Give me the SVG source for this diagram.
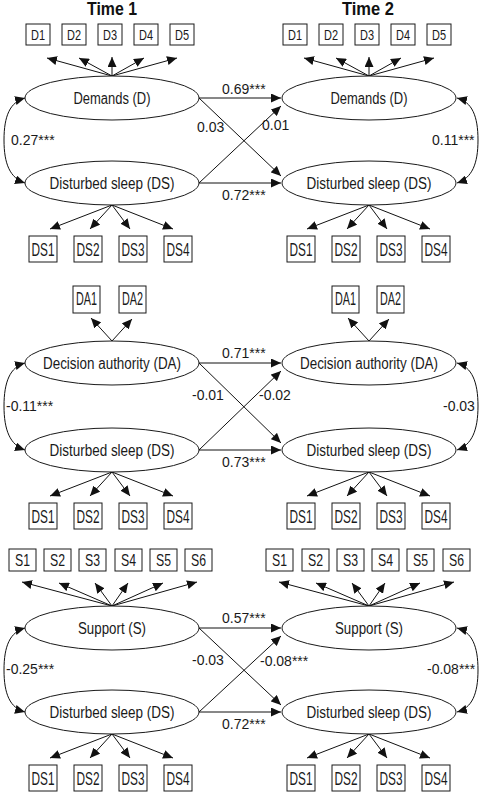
<svg xmlns="http://www.w3.org/2000/svg" width="481" height="794" viewBox="0 0 481 794">
<style>
.bg{fill:#fff}
.box{fill:#fff;stroke:#1a1a1a;stroke-width:1}
.ell{fill:#fff;stroke:#1a1a1a;stroke-width:1}
.ln{fill:none;stroke:#111;stroke-width:1;marker-end:url(#ah)}
.dbl{fill:none;stroke:#111;stroke-width:1;marker-start:url(#ah);marker-end:url(#ah)}
.t{font-family:"Liberation Sans",Arial,sans-serif;fill:#1a1a1a}
.title{font-family:"Liberation Sans",Arial,sans-serif;font-weight:bold;font-size:18px;fill:#111;text-anchor:middle}
.num{font-family:"Liberation Sans",Arial,sans-serif;font-size:14px;fill:#1a1a1a}
.lab{font-size:16px;text-anchor:middle}
.bl{text-anchor:middle}
</style>
<defs>
<marker id="ah" markerWidth="10" markerHeight="9" refX="10" refY="4.5" orient="auto-start-reverse" markerUnits="userSpaceOnUse">
<path d="M0,0 L10,4.5 L0,9 z" fill="#111"/>
</marker>
</defs>
<rect class="bg" x="0" y="0" width="481" height="794"/>
<text class="title" x="112" y="15" textLength="50" lengthAdjust="spacingAndGlyphs">Time 1</text>
<text class="title" x="368" y="15" textLength="52" lengthAdjust="spacingAndGlyphs">Time 2</text>

<g id="connectors">
<line class="ln" x1="112" y1="76" x2="47" y2="58"/>
<line class="ln" x1="112" y1="76" x2="79" y2="58"/>
<line class="ln" x1="112" y1="76" x2="112" y2="57"/>
<line class="ln" x1="112" y1="76" x2="144" y2="58"/>
<line class="ln" x1="112" y1="76" x2="177" y2="58"/>
<line class="ln" x1="369" y1="76" x2="304" y2="58"/>
<line class="ln" x1="369" y1="76" x2="336" y2="58"/>
<line class="ln" x1="369" y1="76" x2="369" y2="57"/>
<line class="ln" x1="369" y1="76" x2="401" y2="58"/>
<line class="ln" x1="369" y1="76" x2="434" y2="58"/>
<line class="ln" x1="112" y1="205" x2="50" y2="229"/>
<line class="ln" x1="112" y1="205" x2="90" y2="229"/>
<line class="ln" x1="112" y1="205" x2="130" y2="229"/>
<line class="ln" x1="112" y1="205" x2="173" y2="229"/>
<line class="ln" x1="369" y1="205" x2="307" y2="229"/>
<line class="ln" x1="369" y1="205" x2="347" y2="229"/>
<line class="ln" x1="369" y1="205" x2="387" y2="229"/>
<line class="ln" x1="369" y1="205" x2="430" y2="229"/>
<line class="ln" x1="199" y1="98" x2="281" y2="98"/>
<line class="ln" x1="199" y1="183" x2="281" y2="183"/>
<line class="ln" x1="199" y1="98" x2="281" y2="176"/>
<line class="ln" x1="199" y1="183" x2="281" y2="106"/>
<path class="dbl" d="M25,98 C10,102 4,116 4,140 C4,164 10,178 25,183"/>
<path class="dbl" d="M457,98 C472,102 478,116 478,140 C478,164 472,178 457,183"/>

<line class="ln" x1="112" y1="341" x2="91" y2="318"/>
<line class="ln" x1="112" y1="341" x2="132" y2="319"/>
<line class="ln" x1="369" y1="341" x2="348" y2="318"/>
<line class="ln" x1="369" y1="341" x2="389" y2="319"/>
<line class="ln" x1="112" y1="472" x2="50" y2="496"/>
<line class="ln" x1="112" y1="472" x2="90" y2="496"/>
<line class="ln" x1="112" y1="472" x2="130" y2="496"/>
<line class="ln" x1="112" y1="472" x2="173" y2="496"/>
<line class="ln" x1="369" y1="472" x2="307" y2="496"/>
<line class="ln" x1="369" y1="472" x2="347" y2="496"/>
<line class="ln" x1="369" y1="472" x2="387" y2="496"/>
<line class="ln" x1="369" y1="472" x2="430" y2="496"/>
<line class="ln" x1="199" y1="363" x2="281" y2="363"/>
<line class="ln" x1="199" y1="450" x2="281" y2="450"/>
<line class="ln" x1="199" y1="363" x2="281" y2="443"/>
<line class="ln" x1="199" y1="450" x2="281" y2="371"/>
<path class="dbl" d="M25,363 C10,367 4,382 4,406 C4,430 10,445 25,450"/>
<path class="dbl" d="M457,363 C472,367 478,382 478,406 C478,430 472,445 457,450"/>

<line class="ln" x1="112" y1="606" x2="22" y2="582"/>
<line class="ln" x1="112" y1="606" x2="59" y2="583"/>
<line class="ln" x1="112" y1="606" x2="95" y2="583"/>
<line class="ln" x1="112" y1="606" x2="128" y2="583"/>
<line class="ln" x1="112" y1="606" x2="163" y2="583"/>
<line class="ln" x1="112" y1="606" x2="197" y2="582"/>
<line class="ln" x1="369" y1="606" x2="279" y2="582"/>
<line class="ln" x1="369" y1="606" x2="316" y2="583"/>
<line class="ln" x1="369" y1="606" x2="352" y2="583"/>
<line class="ln" x1="369" y1="606" x2="385" y2="583"/>
<line class="ln" x1="369" y1="606" x2="420" y2="583"/>
<line class="ln" x1="369" y1="606" x2="454" y2="582"/>
<line class="ln" x1="112" y1="734" x2="50" y2="758"/>
<line class="ln" x1="112" y1="734" x2="90" y2="758"/>
<line class="ln" x1="112" y1="734" x2="130" y2="758"/>
<line class="ln" x1="112" y1="734" x2="173" y2="758"/>
<line class="ln" x1="369" y1="734" x2="307" y2="758"/>
<line class="ln" x1="369" y1="734" x2="347" y2="758"/>
<line class="ln" x1="369" y1="734" x2="387" y2="758"/>
<line class="ln" x1="369" y1="734" x2="430" y2="758"/>
<line class="ln" x1="199" y1="628" x2="281" y2="628"/>
<line class="ln" x1="199" y1="712" x2="281" y2="712"/>
<line class="ln" x1="199" y1="628" x2="281" y2="705"/>
<line class="ln" x1="199" y1="712" x2="281" y2="636"/>
<path class="dbl" d="M25,628 C10,632 4,646 4,670 C4,694 10,708 25,712"/>
<path class="dbl" d="M457,628 C472,632 478,646 478,670 C478,694 472,708 457,712"/>
</g>

<g id="coef" class="num">
<text x="222" y="94">0.69***</text>
<text x="197" y="132">0.03</text>
<text x="262" y="130">0.01</text>
<text x="222" y="200">0.72***</text>
<text x="11" y="145">0.27***</text>
<text x="432" y="145">0.11***</text>
<text x="222" y="358">0.71***</text>
<text x="192" y="400">-0.01</text>
<text x="259" y="400">-0.02</text>
<text x="222" y="467">0.73***</text>
<text x="6" y="411">-0.11***</text>
<text x="443" y="411">-0.03</text>
<text x="222" y="623">0.57***</text>
<text x="192" y="665">-0.03</text>
<text x="260" y="666">-0.08***</text>
<text x="222" y="729">0.72***</text>
<text x="6" y="674">-0.25***</text>
<text x="427" y="674">-0.08***</text>
</g>

<g id="D_T1"><ellipse class="ell" cx="112" cy="98" rx="87" ry="22"/><text class="t lab" x="112" y="104" textLength="77" lengthAdjust="spacingAndGlyphs">Demands (D)</text></g>
<g id="DS_T1a"><ellipse class="ell" cx="112" cy="183" rx="87" ry="22"/><text class="t lab" x="112" y="189" textLength="125" lengthAdjust="spacingAndGlyphs">Disturbed sleep (DS)</text></g>
<g id="D_T2"><ellipse class="ell" cx="369" cy="98" rx="87" ry="22"/><text class="t lab" x="369" y="104" textLength="77" lengthAdjust="spacingAndGlyphs">Demands (D)</text></g>
<g id="DS_T2a"><ellipse class="ell" cx="369" cy="183" rx="87" ry="22"/><text class="t lab" x="369" y="189" textLength="125" lengthAdjust="spacingAndGlyphs">Disturbed sleep (DS)</text></g>

<g id="D1_T1"><rect class="box" x="26" y="24" width="24" height="21"/><text class="t bl" x="38" y="40" font-size="14" textLength="14" lengthAdjust="spacingAndGlyphs">D1</text></g>
<g id="D2_T1"><rect class="box" x="62" y="24" width="24" height="21"/><text class="t bl" x="74" y="40" font-size="14" textLength="14" lengthAdjust="spacingAndGlyphs">D2</text></g>
<g id="D3_T1"><rect class="box" x="98" y="24" width="24" height="21"/><text class="t bl" x="110" y="40" font-size="14" textLength="14" lengthAdjust="spacingAndGlyphs">D3</text></g>
<g id="D4_T1"><rect class="box" x="134" y="24" width="24" height="21"/><text class="t bl" x="146" y="40" font-size="14" textLength="14" lengthAdjust="spacingAndGlyphs">D4</text></g>
<g id="D5_T1"><rect class="box" x="170" y="24" width="24" height="21"/><text class="t bl" x="182" y="40" font-size="14" textLength="14" lengthAdjust="spacingAndGlyphs">D5</text></g>
<g id="D1_T2"><rect class="box" x="283" y="24" width="24" height="21"/><text class="t bl" x="295" y="40" font-size="14" textLength="14" lengthAdjust="spacingAndGlyphs">D1</text></g>
<g id="D2_T2"><rect class="box" x="319" y="24" width="24" height="21"/><text class="t bl" x="331" y="40" font-size="14" textLength="14" lengthAdjust="spacingAndGlyphs">D2</text></g>
<g id="D3_T2"><rect class="box" x="355" y="24" width="24" height="21"/><text class="t bl" x="367" y="40" font-size="14" textLength="14" lengthAdjust="spacingAndGlyphs">D3</text></g>
<g id="D4_T2"><rect class="box" x="391" y="24" width="24" height="21"/><text class="t bl" x="403" y="40" font-size="14" textLength="14" lengthAdjust="spacingAndGlyphs">D4</text></g>
<g id="D5_T2"><rect class="box" x="427" y="24" width="24" height="21"/><text class="t bl" x="439" y="40" font-size="14" textLength="14" lengthAdjust="spacingAndGlyphs">D5</text></g>

<g id="DS1_T1a"><rect class="box" x="29" y="236" width="28" height="26"/><text class="t bl" x="43" y="256" font-size="19" textLength="23" lengthAdjust="spacingAndGlyphs">DS1</text></g>
<g id="DS2_T1a"><rect class="box" x="74" y="236" width="28" height="26"/><text class="t bl" x="88" y="256" font-size="19" textLength="23" lengthAdjust="spacingAndGlyphs">DS2</text></g>
<g id="DS3_T1a"><rect class="box" x="119" y="236" width="28" height="26"/><text class="t bl" x="133" y="256" font-size="19" textLength="23" lengthAdjust="spacingAndGlyphs">DS3</text></g>
<g id="DS4_T1a"><rect class="box" x="164" y="236" width="28" height="26"/><text class="t bl" x="178" y="256" font-size="19" textLength="23" lengthAdjust="spacingAndGlyphs">DS4</text></g>
<g id="DS1_T2a"><rect class="box" x="287" y="236" width="28" height="26"/><text class="t bl" x="301" y="256" font-size="19" textLength="23" lengthAdjust="spacingAndGlyphs">DS1</text></g>
<g id="DS2_T2a"><rect class="box" x="332" y="236" width="28" height="26"/><text class="t bl" x="346" y="256" font-size="19" textLength="23" lengthAdjust="spacingAndGlyphs">DS2</text></g>
<g id="DS3_T2a"><rect class="box" x="377" y="236" width="28" height="26"/><text class="t bl" x="391" y="256" font-size="19" textLength="23" lengthAdjust="spacingAndGlyphs">DS3</text></g>
<g id="DS4_T2a"><rect class="box" x="422" y="236" width="28" height="26"/><text class="t bl" x="436" y="256" font-size="19" textLength="23" lengthAdjust="spacingAndGlyphs">DS4</text></g>

<g id="DA_T1"><ellipse class="ell" cx="112" cy="363" rx="87" ry="22"/><text class="t lab" x="112" y="369" textLength="138" lengthAdjust="spacingAndGlyphs">Decision authority (DA)</text></g>
<g id="DS_T1b"><ellipse class="ell" cx="112" cy="450" rx="87" ry="22"/><text class="t lab" x="112" y="456" textLength="125" lengthAdjust="spacingAndGlyphs">Disturbed sleep (DS)</text></g>
<g id="DA_T2"><ellipse class="ell" cx="369" cy="363" rx="87" ry="22"/><text class="t lab" x="369" y="369" textLength="138" lengthAdjust="spacingAndGlyphs">Decision authority (DA)</text></g>
<g id="DS_T2b"><ellipse class="ell" cx="369" cy="450" rx="87" ry="22"/><text class="t lab" x="369" y="456" textLength="125" lengthAdjust="spacingAndGlyphs">Disturbed sleep (DS)</text></g>

<g id="DA1_T1"><rect class="box" x="73" y="286" width="27" height="27"/><text class="t bl" x="86.5" y="305" font-size="18" textLength="21" lengthAdjust="spacingAndGlyphs">DA1</text></g>
<g id="DA2_T1"><rect class="box" x="119" y="286" width="27" height="27"/><text class="t bl" x="132.5" y="305" font-size="18" textLength="21" lengthAdjust="spacingAndGlyphs">DA2</text></g>
<g id="DA1_T2"><rect class="box" x="332" y="286" width="27" height="27"/><text class="t bl" x="345.5" y="305" font-size="18" textLength="21" lengthAdjust="spacingAndGlyphs">DA1</text></g>
<g id="DA2_T2"><rect class="box" x="377" y="286" width="27" height="27"/><text class="t bl" x="390.5" y="305" font-size="18" textLength="21" lengthAdjust="spacingAndGlyphs">DA2</text></g>

<g id="DS1_T1b"><rect class="box" x="29" y="503" width="28" height="26"/><text class="t bl" x="43" y="523" font-size="19" textLength="23" lengthAdjust="spacingAndGlyphs">DS1</text></g>
<g id="DS2_T1b"><rect class="box" x="74" y="503" width="28" height="26"/><text class="t bl" x="88" y="523" font-size="19" textLength="23" lengthAdjust="spacingAndGlyphs">DS2</text></g>
<g id="DS3_T1b"><rect class="box" x="119" y="503" width="28" height="26"/><text class="t bl" x="133" y="523" font-size="19" textLength="23" lengthAdjust="spacingAndGlyphs">DS3</text></g>
<g id="DS4_T1b"><rect class="box" x="164" y="503" width="28" height="26"/><text class="t bl" x="178" y="523" font-size="19" textLength="23" lengthAdjust="spacingAndGlyphs">DS4</text></g>
<g id="DS1_T2b"><rect class="box" x="287" y="503" width="28" height="26"/><text class="t bl" x="301" y="523" font-size="19" textLength="23" lengthAdjust="spacingAndGlyphs">DS1</text></g>
<g id="DS2_T2b"><rect class="box" x="332" y="503" width="28" height="26"/><text class="t bl" x="346" y="523" font-size="19" textLength="23" lengthAdjust="spacingAndGlyphs">DS2</text></g>
<g id="DS3_T2b"><rect class="box" x="377" y="503" width="28" height="26"/><text class="t bl" x="391" y="523" font-size="19" textLength="23" lengthAdjust="spacingAndGlyphs">DS3</text></g>
<g id="DS4_T2b"><rect class="box" x="422" y="503" width="28" height="26"/><text class="t bl" x="436" y="523" font-size="19" textLength="23" lengthAdjust="spacingAndGlyphs">DS4</text></g>

<g id="S_T1"><ellipse class="ell" cx="112" cy="628" rx="87" ry="22"/><text class="t lab" x="112" y="634" textLength="68" lengthAdjust="spacingAndGlyphs">Support (S)</text></g>
<g id="DS_T1c"><ellipse class="ell" cx="112" cy="712" rx="87" ry="22"/><text class="t lab" x="112" y="718" textLength="125" lengthAdjust="spacingAndGlyphs">Disturbed sleep (DS)</text></g>
<g id="S_T2"><ellipse class="ell" cx="369" cy="628" rx="87" ry="22"/><text class="t lab" x="369" y="634" textLength="68" lengthAdjust="spacingAndGlyphs">Support (S)</text></g>
<g id="DS_T2c"><ellipse class="ell" cx="369" cy="712" rx="87" ry="22"/><text class="t lab" x="369" y="718" textLength="125" lengthAdjust="spacingAndGlyphs">Disturbed sleep (DS)</text></g>

<g id="S1_T1"><rect class="box" x="9" y="549" width="27" height="22"/><text class="t bl" x="22.5" y="566" font-size="17" textLength="15" lengthAdjust="spacingAndGlyphs">S1</text></g>
<g id="S2_T1"><rect class="box" x="44" y="549" width="27" height="22"/><text class="t bl" x="57.5" y="566" font-size="17" textLength="15" lengthAdjust="spacingAndGlyphs">S2</text></g>
<g id="S3_T1"><rect class="box" x="79" y="549" width="27" height="22"/><text class="t bl" x="92.5" y="566" font-size="17" textLength="15" lengthAdjust="spacingAndGlyphs">S3</text></g>
<g id="S4_T1"><rect class="box" x="115" y="549" width="27" height="22"/><text class="t bl" x="128.5" y="566" font-size="17" textLength="15" lengthAdjust="spacingAndGlyphs">S4</text></g>
<g id="S5_T1"><rect class="box" x="150" y="549" width="27" height="22"/><text class="t bl" x="163.5" y="566" font-size="17" textLength="15" lengthAdjust="spacingAndGlyphs">S5</text></g>
<g id="S6_T1"><rect class="box" x="185" y="549" width="27" height="22"/><text class="t bl" x="198.5" y="566" font-size="17" textLength="15" lengthAdjust="spacingAndGlyphs">S6</text></g>
<g id="S1_T2"><rect class="box" x="266" y="549" width="27" height="22"/><text class="t bl" x="279.5" y="566" font-size="17" textLength="15" lengthAdjust="spacingAndGlyphs">S1</text></g>
<g id="S2_T2"><rect class="box" x="302" y="549" width="27" height="22"/><text class="t bl" x="315.5" y="566" font-size="17" textLength="15" lengthAdjust="spacingAndGlyphs">S2</text></g>
<g id="S3_T2"><rect class="box" x="337" y="549" width="27" height="22"/><text class="t bl" x="350.5" y="566" font-size="17" textLength="15" lengthAdjust="spacingAndGlyphs">S3</text></g>
<g id="S4_T2"><rect class="box" x="372" y="549" width="27" height="22"/><text class="t bl" x="385.5" y="566" font-size="17" textLength="15" lengthAdjust="spacingAndGlyphs">S4</text></g>
<g id="S5_T2"><rect class="box" x="407" y="549" width="27" height="22"/><text class="t bl" x="420.5" y="566" font-size="17" textLength="15" lengthAdjust="spacingAndGlyphs">S5</text></g>
<g id="S6_T2"><rect class="box" x="443" y="549" width="27" height="22"/><text class="t bl" x="456.5" y="566" font-size="17" textLength="15" lengthAdjust="spacingAndGlyphs">S6</text></g>

<g id="DS1_T1c"><rect class="box" x="29" y="765" width="28" height="26"/><text class="t bl" x="43" y="785" font-size="19" textLength="23" lengthAdjust="spacingAndGlyphs">DS1</text></g>
<g id="DS2_T1c"><rect class="box" x="74" y="765" width="28" height="26"/><text class="t bl" x="88" y="785" font-size="19" textLength="23" lengthAdjust="spacingAndGlyphs">DS2</text></g>
<g id="DS3_T1c"><rect class="box" x="119" y="765" width="28" height="26"/><text class="t bl" x="133" y="785" font-size="19" textLength="23" lengthAdjust="spacingAndGlyphs">DS3</text></g>
<g id="DS4_T1c"><rect class="box" x="164" y="765" width="28" height="26"/><text class="t bl" x="178" y="785" font-size="19" textLength="23" lengthAdjust="spacingAndGlyphs">DS4</text></g>
<g id="DS1_T2c"><rect class="box" x="287" y="765" width="28" height="26"/><text class="t bl" x="301" y="785" font-size="19" textLength="23" lengthAdjust="spacingAndGlyphs">DS1</text></g>
<g id="DS2_T2c"><rect class="box" x="332" y="765" width="28" height="26"/><text class="t bl" x="346" y="785" font-size="19" textLength="23" lengthAdjust="spacingAndGlyphs">DS2</text></g>
<g id="DS3_T2c"><rect class="box" x="377" y="765" width="28" height="26"/><text class="t bl" x="391" y="785" font-size="19" textLength="23" lengthAdjust="spacingAndGlyphs">DS3</text></g>
<g id="DS4_T2c"><rect class="box" x="422" y="765" width="28" height="26"/><text class="t bl" x="436" y="785" font-size="19" textLength="23" lengthAdjust="spacingAndGlyphs">DS4</text></g>
</svg>
